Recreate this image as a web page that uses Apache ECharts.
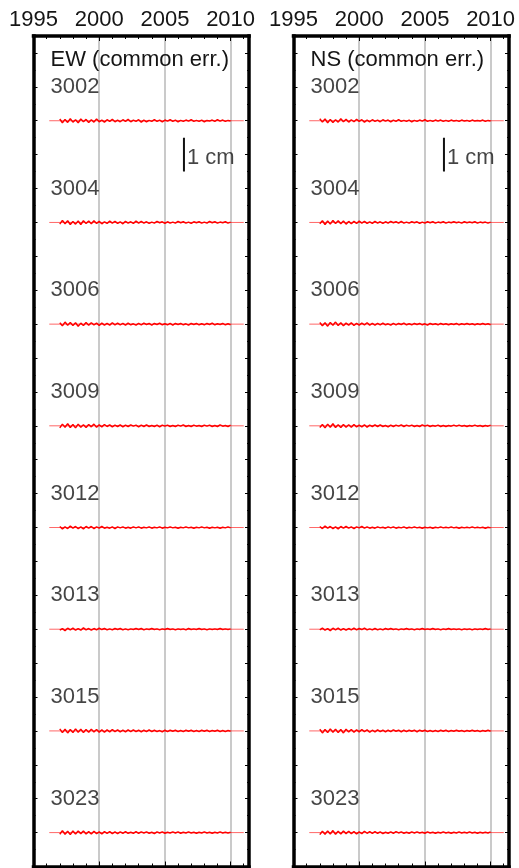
<!DOCTYPE html>
<html>
<head>
<meta charset="utf-8">
<script src="https://cdn.jsdelivr.net/npm/echarts@6/dist/echarts.min.js"></script>
<style>
  html, body { margin: 0; padding: 0; background: #fff; }
  #chart { width: 519px; height: 868px; }
</style>
</head>
<body>
<div id="chart"></div>
<script>
// GPS daily residual time series, stacked by station (cm), two components.
const stations = ['3002', '3004', '3006', '3009', '3012', '3013', '3015', '3023'];
const stationOffsets = [0, -3, -6, -9, -12, -15, -18, -21];   // cm, vertical stacking
const components = ['EW', 'NS'];
const panelTitles = ['EW (common err.)', 'NS (common err.)'];

// Residual samples every 0.2 yr from 1997.0 to 2010.0, in units of 0.01 cm
const epochStart = 1997.0;
const epochStep = 0.2;
const residualsEW = {
  '3002': [5,-6,4,-5,6,-4,3,-6,5,-3,4, -5,3,-4,5,-3,2,-4,3,-2,4,-3, 2,-3,3,-2,4,-3,2,-2,3,-4,2, -3,1,-2,3,-2,2,-3,2,-1,3,-2, 2,-3,1,-2,2,-1,3,-2,1,-2,2, -3,1,-1,2,-2,3,-1,2,-2,1,-1],
  '3004': [-5,6,-4,5,-6,3,-5,4,-6,5,-3, 4,-4,5,-3,3,-4,2,-3,4,-2,3, -3,2,-4,3,-2,2,-3,4,-2,3,-2, 2,-3,1,-2,3,-1,2,-3,2,-2,1, -2,3,-1,2,-2,1,-3,2,-1,2,-2, 1,-2,3,-1,2,-2,1,-1,2,-2,1],
  '3006': [4,-5,6,-3,5,-4,4,-6,3,-4,5, -3,4,-2,3,-4,3,-3,2,-3,4,-2, 3,-2,2,-3,3,-2,1,-3,2,-2,3, -1,2,-3,2,-1,3,-2,1,-2,2,-3, 2,-1,2,-2,1,-3,2,-1,2,-2,1, -2,2,-1,3,-2,1,-1,2,-2,1,-2],
  '3009': [-6,5,-4,6,-5,4,-6,5,-4,3,-5, 4,-3,5,-4,3,-3,4,-2,3,-3,2, -2,3,-3,2,-2,3,-1,2,-3,2,-2, 3,-2,1,-2,2,-3,2,-1,2,-2,1, -2,2,-1,3,-2,1,-2,2,-1,1,-2, 2,-1,2,-2,1,-2,3,-1,1,-2,2],
  '3012': [3,-4,2,-3,4,-2,3,-3,2,-4,3, -2,3,-3,2,-2,3,-2,1,-2,2,-3, 2,-1,2,-2,1,-2,2,-1,2,-2,1, -1,2,-2,1,-1,2,-2,1,-1,2,-1, 1,-2,1,-1,2,-1,1,-2,1,-1,2, -1,1,-2,1,-1,1,-2,1,-1,2,-1],
  '3013': [-3,2,-4,3,-2,3,-3,2,-3,4,-2, 2,-3,2,-2,3,-1,2,-2,1,-2,2, -1,2,-2,1,-2,1,-1,2,-1,2,-2, 1,-1,2,-1,1,-2,1,-1,2,-1,1, -2,1,-1,1,-2,2,-1,1,-1,2,-1, 1,-2,1,-1,1,-1,2,-1,1,-1,1],
  '3015': [6,-5,5,-6,4,-5,6,-4,5,-5,4, -4,5,-3,4,-4,3,-4,3,-3,4,-2, 3,-3,2,-3,3,-2,3,-2,2,-3,2, -2,3,-2,2,-2,1,-3,2,-2,2,-1, 2,-2,1,-2,2,-1,2,-2,1,-2,2, -1,2,-2,1,-1,2,-2,1,-2,1,-1],
  '3023': [-5,6,-5,4,-6,5,-4,5,-3,5,-4, 3,-4,4,-3,2,-4,3,-2,3,-3,2, -3,2,-2,3,-2,1,-2,3,-2,2,-1, 2,-2,1,-3,2,-1,2,-2,1,-1,2, -1,2,-2,1,-1,2,-1,1,-2,1,-1, 2,-1,1,-2,1,-1,2,-1,1,-1,1]
};
const residualsNS = {
  '3002': [6,-4,5,-6,4,-5,3,-4,6,-3,4, -4,3,-3,4,-2,3,-4,2,-3,3,-2, 2,-3,3,-1,2,-3,2,-2,3,-2,1, -2,2,-3,1,-2,2,-1,3,-2,1,-2, 2,-1,2,-2,1,-2,2,-1,1,-2,2, -1,1,-2,2,-1,1,-1,2,-2,1,-1],
  '3004': [-4,5,-6,4,-5,6,-3,5,-4,4,-5, 3,-4,3,-3,4,-2,3,-3,2,-3,3, -2,2,-3,2,-2,3,-1,2,-2,3,-2, 1,-2,2,-1,2,-3,1,-2,2,-1,2, -2,1,-1,2,-2,1,-1,2,-1,1,-2, 2,-1,1,-1,2,-2,1,-1,1,-2,1],
  '3006': [5,-5,4,-6,5,-3,6,-4,4,-5,3, -3,4,-4,2,-3,3,-2,4,-3,2,-3, 2,-2,3,-2,1,-3,2,-2,2,-1,3, -2,1,-2,2,-1,2,-2,1,-3,2,-1, 1,-2,2,-1,1,-2,1,-1,2,-2,1, -1,2,-1,1,-2,1,-1,2,-1,1,-2],
  '3009': [-5,4,-6,5,-4,6,-5,3,-5,4,-4, 3,-4,4,-3,2,-3,3,-4,2,-2,3, -2,3,-2,1,-3,2,-2,2,-1,3,-2, 2,-1,2,-2,1,-2,3,-1,2,-2,1, -1,2,-2,1,-2,1,-1,2,-1,2,-1, 1,-2,1,-1,2,-1,1,-2,1,-1,2],
  '3012': [3,-3,4,-2,3,-3,2,-4,3,-2,3, -2,2,-3,2,-1,3,-2,2,-2,1,-2, 2,-1,1,-2,2,-1,2,-2,1,-1,2, -2,1,-1,2,-1,1,-2,1,-1,1,-2, 1,-1,2,-1,1,-1,2,-1,1,-2,1, -1,1,-1,2,-1,1,-1,1,-2,1,-1],
  '3013': [-2,3,-3,2,-4,3,-2,3,-3,2,-3, 2,-2,3,-2,2,-1,3,-2,1,-2,2, -2,1,-2,2,-1,2,-1,1,-2,1,-1, 2,-1,1,-2,1,-1,2,-1,1,-1,2, -1,1,-2,1,-1,2,-1,1,-1,1,-2, 1,-1,1,-2,1,-1,1,-1,2,-1,1],
  '3015': [5,-6,4,-5,6,-4,5,-5,4,-6,5, -3,4,-4,3,-3,4,-2,3,-4,2,-3, 3,-2,2,-3,2,-2,3,-1,2,-3,2, -2,2,-1,2,-3,2,-1,2,-2,1,-2, 1,-2,2,-1,2,-2,1,-1,2,-1,1, -2,1,-1,2,-1,1,-2,1,-1,2,-1],
  '3023': [-6,4,-5,5,-4,6,-5,4,-4,5,-3, 4,-3,3,-4,2,-3,4,-2,3,-2,3, -2,2,-3,1,-2,2,-2,3,-1,2,-2, 1,-2,2,-1,2,-1,1,-2,2,-1,1, -2,1,-1,2,-1,1,-2,1,-1,2,-1, 1,-1,2,-1,1,-2,1,-1,1,-1,2]
};
const residualSets = [residualsEW, residualsNS];

// Reference (zero) line extent for each station, decimal years
const refLineStart = 1996.2;
const refLineEnd = 2011.0;

// Axis extents
const xMin = 1995, xMax = 2011.4, xInterval = 5;
const yMin = -22, yMax = 2.5, yInterval = 1;

// Station name placement: decimal year, and height above the station's baseline (cm)
const nameYear = 1996.3;
const nameRise = 1;

// Scale bar: 1 cm, drawn below the first station
const scaleBarYear = 2006.45;
const scaleBarTop = -0.5;
const scaleBarBottom = -1.5;
const scaleBarText = '1 cm';

const FONT = 'Liberation Sans, Arial, Helvetica, sans-serif';
const TEXT_SIZE = 22;
const TEXT_COLOR = '#151515';
const frameLine = { color: '#000', width: 3.5, cap: 'square' };

const panelLeft = [33.5, 293.5];
const panelWidth = 215.5;

const grids = [], xAxes = [], yAxes = [], series = [], titles = [];

components.forEach((comp, p) => {
  grids.push({ left: panelLeft[p], top: 36, width: panelWidth, bottom: 1.5, containLabel: false });

  const xBase = {
    gridIndex: p, type: 'value', min: xMin, max: xMax, interval: xInterval,
    axisLine: { show: true, onZero: false, lineStyle: frameLine },
    axisTick: { show: true, inside: true, length: 5, lineStyle: { color: '#000', width: 1 } },
    minorTick: { show: true, splitNumber: 5, length: 3, lineStyle: { color: '#000', width: 1 } }
  };
  // top axis carries the year labels and the vertical grid
  xAxes.push(Object.assign({}, xBase, {
    position: 'top',
    axisLabel: {
      show: true, fontSize: TEXT_SIZE, color: TEXT_COLOR, fontFamily: FONT, margin: 5,
      showMaxLabel: false, formatter: (v) => String(Math.round(v))
    },
    splitLine: { show: true, lineStyle: { color: '#b8b8b8', width: 1.5 } }
  }));
  // bottom axis: frame and ticks only
  xAxes.push(Object.assign({}, xBase, {
    position: 'bottom',
    axisLabel: { show: false },
    splitLine: { show: false }
  }));

  const yBase = {
    gridIndex: p, type: 'value', min: yMin, max: yMax, interval: yInterval,
    axisLine: { show: true, onZero: false, lineStyle: frameLine },
    axisTick: { show: true, inside: true, length: 4, lineStyle: { color: '#000', width: 1 } },
    minorTick: { show: true, splitNumber: 2, length: 2, lineStyle: { color: '#000', width: 1 } },
    axisLabel: { show: false },
    splitLine: { show: false }
  };
  yAxes.push(Object.assign({}, yBase, { position: 'left' }));
  yAxes.push(Object.assign({}, yBase, { position: 'right' }));

  titles.push({
    text: panelTitles[p],
    left: panelLeft[p] + 17, top: 49, padding: 0,
    textStyle: { fontSize: TEXT_SIZE, fontWeight: 'normal', color: TEXT_COLOR, fontFamily: FONT }
  });

  const xi = p * 2, yi = p * 2;
  const resid = residualSets[p];

  stations.forEach((st, s) => {
    const off = stationOffsets[s];
    // thin reference line
    series.push({
      type: 'line', xAxisIndex: xi, yAxisIndex: yi, silent: true, symbol: 'none',
      data: [[refLineStart, off], [refLineEnd, off]],
      lineStyle: { color: 'rgba(255,0,0,0.6)', width: 1 },
      z: 3
    });
    // residual trace
    series.push({
      type: 'line', xAxisIndex: xi, yAxisIndex: yi, silent: true, symbol: 'none',
      data: resid[st].map((v, i) => [epochStart + i * epochStep, off + v / 100]),
      lineStyle: { color: '#ff0000', width: 1.5 },
      z: 4
    });
    // station name
    series.push({
      type: 'scatter', xAxisIndex: xi, yAxisIndex: yi, silent: true, symbolSize: 0,
      data: [[nameYear, off + nameRise, st]],
      label: {
        show: true, position: 'right', distance: 0, formatter: (q) => q.value[2],
        fontSize: TEXT_SIZE, color: TEXT_COLOR, fontFamily: FONT
      },
      z: 5
    });
  });

  // 1 cm scale bar
  series.push({
    type: 'line', xAxisIndex: xi, yAxisIndex: yi, silent: true, symbol: 'none',
    data: [[scaleBarYear, scaleBarTop], [scaleBarYear, scaleBarBottom]],
    lineStyle: { color: '#111', width: 2 },
    z: 5
  });
  series.push({
    type: 'scatter', xAxisIndex: xi, yAxisIndex: yi, silent: true, symbolSize: 0,
    data: [[scaleBarYear, (scaleBarTop + scaleBarBottom) / 2 - 0.1, scaleBarText]],
    label: {
      show: true, position: 'right', distance: 3, formatter: (q) => q.value[2],
      fontSize: TEXT_SIZE, color: TEXT_COLOR, fontFamily: FONT
    },
    z: 5
  });
});

const chart = echarts.init(document.getElementById('chart'), null, { renderer: 'canvas' });
chart.setOption({
  animation: false,
  backgroundColor: '#fff',
  title: titles,
  grid: grids,
  xAxis: xAxes,
  yAxis: yAxes,
  series: series
});
</script>
</body>
</html>
